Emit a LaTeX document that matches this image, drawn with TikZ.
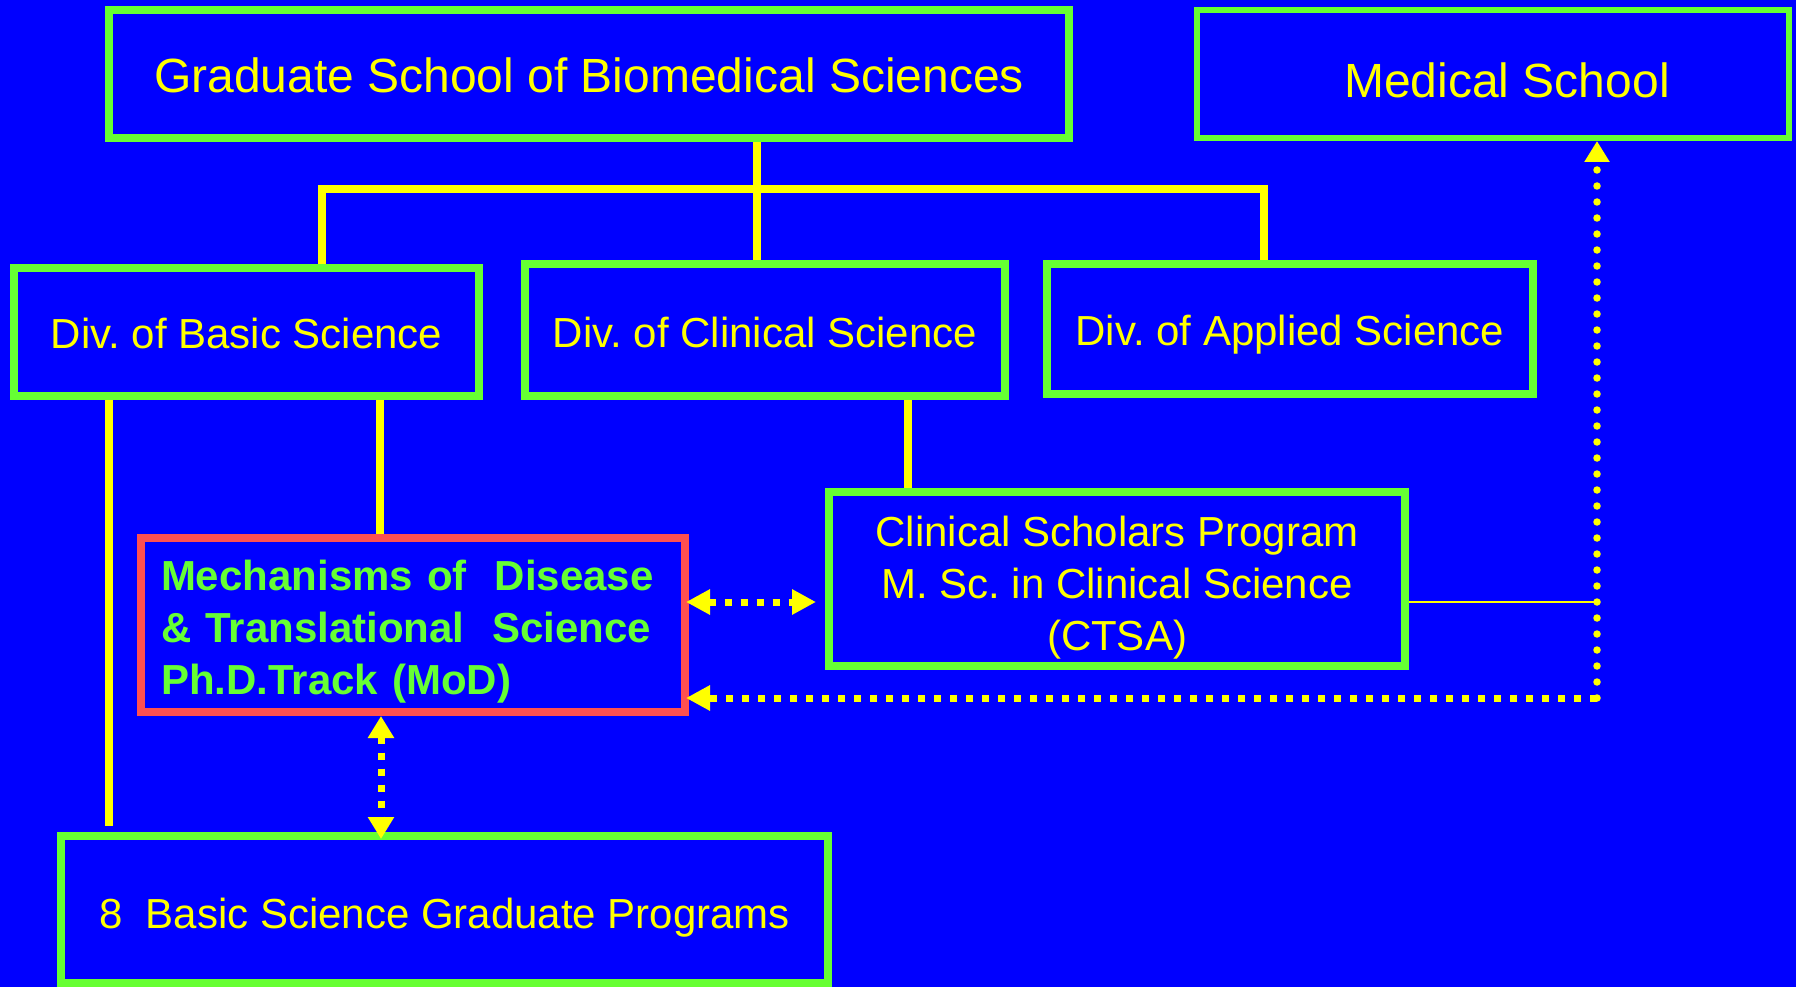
\documentclass[tikz,border=0pt]{standalone}
\usepackage{fontspec}
\setmainfont{Liberation Sans}
\usetikzlibrary{arrows.meta}
\definecolor{bg}{HTML}{0000FF}
\definecolor{bgreen}{HTML}{66FF33}
\definecolor{byellow}{HTML}{FFFF00}
\definecolor{bred}{HTML}{FF5050}
\begin{document}
\frenchspacing
\begin{tikzpicture}[x=1pt,y=-1pt,
  box/.style={draw=bgreen, line width=8pt, rectangle, inner sep=0pt, text=byellow, align=center,
              font=\fontsize{42pt}{52pt}\selectfont\frenchspacing},
  bigtxt/.style={font=\fontsize{48pt}{58pt}\selectfont},
  oneline/.style={text height=#1, text depth=0pt},
  conn/.style={draw=byellow, line width=7.5pt},
  thinconn/.style={draw=byellow, line width=2pt},
  dotsq/.style={draw=byellow, line width=7pt, dash pattern=on 7pt off 9pt},
  dotrd/.style={draw=byellow, line width=7.5pt, line cap=round, dash pattern=on 0pt off 16pt},
]
\fill[bg] (0,0) rectangle (1796,987);
\useasboundingbox (0,0) rectangle (1796,987);

% boxes
\node[box, bigtxt, oneline=38pt, minimum width=960pt, minimum height=128pt] (grad) at (589,74)
  {Graduate School of Biomedical Sciences};
\node[box, bigtxt, oneline=48pt, line width=6pt, minimum width=592pt, minimum height=128pt] (med) at (1493,74)
  {\hspace*{28pt}Medical School};
\node[box, oneline=32pt, minimum width=465pt, minimum height=128pt] (basic) at (246.5,332)
  {Div. of Basic Science};
\node[box, oneline=34pt, minimum width=480pt, minimum height=132pt] (clin) at (765,330)
  {Div. of Clinical Science};
\node[box, oneline=32pt, minimum width=486pt, minimum height=130pt] (appl) at (1290,329)
  {Div. of Applied Science};
\node[box, minimum width=576pt, minimum height=174pt] (sch) at (1117,579)
  {\rule{0pt}{47pt}Clinical Scholars Program\\M. Sc. in Clinical Science\\(CTSA)};
\node[box, draw=bred, text=bgreen, align=left, text width=504pt, minimum width=544pt, minimum height=174pt,
      font=\bfseries\fontsize{42pt}{52pt}\selectfont] (mod) at (413,625)
  {\rule{0pt}{43pt}Mechanisms of~ Disease\\\& Translational~ Science\\Ph.D.Track (MoD)};
\node[box, oneline=37pt, minimum width=767pt, minimum height=147pt] (bsgp) at (444.5,909.5)
  {8~ Basic Science Graduate Programs};

% helper coordinates
\coordinate (xg) at (757,189);
\coordinate (bl) at (322,189);
\coordinate (br) at (1264,189);
\coordinate (xm) at (380,0);
\coordinate (xb) at (109,0);
\coordinate (xc) at (908,0);
\coordinate (xd) at (381,0);
\coordinate (c1) at (1597,602);
\coordinate (corner) at (1597,698);

% tree connectors
\draw[conn] (grad.south -| xg) -- (clin.north -| xg);
\draw[conn] (basic.north -| bl) |- (br) -- (appl.north -| br);
\draw[conn] (basic.south -| xm) -- (mod.north -| xm);
\draw[conn, shorten >=6pt] (basic.south -| xb) -- (bsgp.north -| xb);
\draw[conn] (clin.south -| xc) -- (sch.north -| xc);

% thin link
\draw[thinconn] (c1 -| sch.east) -- (c1);

% dotted arrows
\draw[dotsq, {Triangle[length=24pt,width=24pt]}-{Triangle[length=24pt,width=24pt]},
      shorten <=-3pt, shorten >=9pt] (c1 -| mod.east) -- (c1 -| sch.west);
\draw[dotsq, {Triangle[length=22pt,width=25pt]}-{Triangle[length=22pt,width=25pt]},
      shorten >=-7pt] (mod.south -| xd) -- (bsgp.north -| xd);
\draw[dotsq, -{Triangle[length=24pt,width=24pt]}, shorten >=-3pt] (corner) -- (corner -| mod.east);
\draw[dotrd, -{Triangle[length=21pt,width=24pt]}] (corner) -- (corner |- med.south);
\end{tikzpicture}
\end{document}
